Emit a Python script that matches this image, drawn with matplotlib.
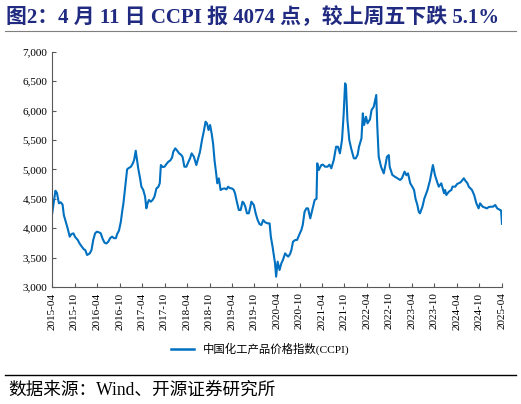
import matplotlib
matplotlib.use('Agg')
import matplotlib.pyplot as plt
import matplotlib.dates as mdates
from matplotlib.lines import Line2D
from matplotlib.ticker import FuncFormatter
import numpy as np

plt.rcParams['font.family'] = ['Liberation Serif', 'Noto Sans CJK SC']

# CCPI 周度数据
dates = [
    '2015-04-10', '2015-04-25', '2015-05-08', '2015-05-20', '2015-06-05', '2015-06-20',
    '2015-07-05', '2015-07-15', '2015-08-01', '2015-08-15', '2015-09-01', '2015-09-15',
    '2015-10-01', '2015-10-15', '2015-11-05', '2015-11-20', '2015-12-10', '2015-12-25',
    '2016-01-05', '2016-01-20', '2016-02-10', '2016-02-25', '2016-03-10', '2016-03-25',
    '2016-04-08', '2016-04-25', '2016-05-10', '2016-05-25', '2016-06-10', '2016-06-25',
    '2016-07-10', '2016-07-25', '2016-08-10', '2016-08-25', '2016-09-10', '2016-09-20',
    '2016-10-05', '2016-10-20', '2016-11-01', '2016-11-10', '2016-11-25', '2016-12-10',
    '2016-12-20', '2017-01-10', '2017-01-25', '2017-02-05', '2017-02-18', '2017-03-01',
    '2017-03-10', '2017-03-25', '2017-04-05', '2017-04-20', '2017-05-05', '2017-05-15',
    '2017-05-25', '2017-06-05', '2017-06-20', '2017-07-05', '2017-07-20', '2017-08-05',
    '2017-08-20', '2017-09-01', '2017-09-10', '2017-09-25', '2017-10-10', '2017-10-25',
    '2017-11-10', '2017-11-25', '2017-12-10', '2017-12-20', '2018-01-05', '2018-01-20',
    '2018-02-05', '2018-02-20', '2018-03-05', '2018-03-20', '2018-04-05', '2018-04-20',
    '2018-05-05', '2018-05-18', '2018-06-05', '2018-06-25', '2018-07-10', '2018-07-25',
    '2018-08-10', '2018-08-25', '2018-09-08', '2018-09-20', '2018-10-02', '2018-10-15',
    '2018-10-28', '2018-11-08', '2018-11-20', '2018-12-03', '2018-12-12', '2018-12-25',
    '2019-01-08', '2019-01-25', '2019-02-10', '2019-02-25', '2019-03-10', '2019-03-25',
    '2019-04-10', '2019-04-25', '2019-05-05', '2019-05-20', '2019-06-05', '2019-06-20',
    '2019-07-05', '2019-07-15', '2019-07-28', '2019-08-10', '2019-08-25', '2019-09-05',
    '2019-09-15', '2019-10-05', '2019-10-20', '2019-11-05', '2019-11-20', '2019-12-05',
    '2019-12-20', '2020-01-05', '2020-01-25', '2020-02-10', '2020-02-20', '2020-03-05',
    '2020-03-25', '2020-04-03', '2020-04-15', '2020-05-01', '2020-05-15', '2020-05-28',
    '2020-06-15', '2020-06-28', '2020-07-10', '2020-07-25', '2020-08-05', '2020-08-18',
    '2020-09-05', '2020-09-20', '2020-10-10', '2020-10-25', '2020-11-05', '2020-11-20',
    '2020-12-05', '2020-12-18', '2021-01-05', '2021-01-25', '2021-02-10', '2021-02-25',
    '2021-03-03', '2021-03-15', '2021-04-05', '2021-04-18', '2021-05-05', '2021-05-25',
    '2021-06-10', '2021-06-25', '2021-07-15', '2021-08-03', '2021-08-18', '2021-09-03',
    '2021-09-20', '2021-10-03', '2021-10-15', '2021-10-22', '2021-11-03', '2021-11-18',
    '2021-12-03', '2021-12-25', '2022-01-10', '2022-01-25', '2022-02-05', '2022-02-25',
    '2022-03-08', '2022-03-18', '2022-04-03', '2022-04-15', '2022-05-05', '2022-05-18',
    '2022-06-05', '2022-06-25', '2022-07-03', '2022-07-15', '2022-08-03', '2022-08-25',
    '2022-09-10', '2022-09-20', '2022-10-05', '2022-10-12', '2022-11-03', '2022-11-20',
    '2022-12-15', '2023-01-05', '2023-01-20', '2023-02-10', '2023-02-25', '2023-03-10',
    '2023-03-28', '2023-04-15', '2023-04-28', '2023-05-10', '2023-05-25', '2023-06-05',
    '2023-06-15', '2023-07-05', '2023-07-20', '2023-08-15', '2023-09-05', '2023-09-28',
    '2023-10-15', '2023-11-05', '2023-11-15', '2023-12-05', '2023-12-28', '2024-01-05',
    '2024-01-15', '2024-02-05', '2024-02-25', '2024-03-05', '2024-03-28', '2024-04-10',
    '2024-05-10', '2024-06-05', '2024-06-20', '2024-07-05', '2024-07-15', '2024-08-10',
    '2024-08-28', '2024-09-15', '2024-10-03', '2024-10-15', '2024-11-05', '2024-11-25',
    '2024-12-10', '2024-12-25', '2025-01-10', '2025-01-28', '2025-02-15', '2025-03-03',
    '2025-03-28', '2025-04-04', '2025-04-11',
]
ccpi = [
    4230, 4450, 4637, 4600, 4423, 4440,
    4400, 4224, 4100, 3998, 3856, 3900,
    3912, 3850, 3800, 3740, 3680, 3640,
    3629, 3544, 3570, 3630, 3800, 3912,
    3940, 3930, 3912, 3820, 3753, 3740,
    3770, 3830, 3856, 3830, 3830, 3900,
    3960, 4110, 4300, 4423, 4705, 5000,
    5018, 5045, 5100, 5159, 5317, 5150,
    5018, 4850, 4705, 4650, 4535, 4337,
    4420, 4479, 4450, 4480, 4535, 4676,
    4700, 4763, 5074, 5040, 5045, 5090,
    5130, 5150, 5200, 5300, 5357, 5320,
    5272, 5250, 5215, 5045, 5045, 5120,
    5187, 5272, 5215, 5074, 5187, 5300,
    5499, 5650, 5810, 5780, 5669, 5754,
    5600, 5442, 5150, 4932, 4763, 4847,
    4649, 4670, 4676, 4660, 4705, 4680,
    4676, 4650, 4593, 4450, 4309, 4309,
    4450, 4430, 4365, 4253, 4253, 4350,
    4450, 4394, 4250, 4139, 4070, 4054,
    4139, 4100, 4082, 4082, 3856, 3686,
    3403, 3176, 3431, 3289, 3400, 3459,
    3572, 3540, 3516, 3560, 3629, 3770,
    3799, 3800, 3900, 3969, 4054, 4280,
    4337, 4337, 4167, 4337, 4479, 4500,
    5102, 4989, 5074, 5080, 5045, 5045,
    5080, 5018, 5159, 5385, 5385, 5272,
    5500, 5924, 6463, 6430, 5839, 5500,
    5357, 5187, 5187, 5250, 5385, 5527,
    5952, 5754, 5895, 5782, 5850, 6009,
    6066, 6264, 5754, 5215, 5045, 4932,
    5100, 5215, 5243, 5045, 4904, 4880,
    4848, 4819, 4850, 4961, 4900, 4932,
    4763, 4700, 4649, 4500, 4394, 4280,
    4252, 4365, 4500, 4649, 4819, 5074,
    4900, 4763, 4706, 4763, 4593, 4649,
    4564, 4621, 4650, 4706, 4706, 4749,
    4780, 4848, 4800, 4763, 4706, 4650,
    4564, 4422, 4337, 4422, 4365, 4350,
    4337, 4360, 4365, 4365, 4394, 4337,
    4309, 4300, 4074,
]
series_name = '中国化工产品价格指数(CCPI)'
title = '图2：4 月 11 日 CCPI 报 4074 点，较上周五下跌 5.1%'
source = '数据来源：Wind、开源证券研究所'

x = np.array(dates, dtype='datetime64[D]')

fig = plt.figure(figsize=(5.21, 4.04), dpi=100)
ax = fig.add_axes([0.0998, 0.2896, 0.8637, 0.5824])

ax.plot(x, ccpi, color='#0070C0', lw=1.5)

tick_dates = np.array([f'{2015 + (3 + 6 * i) // 12}-{(3 + 6 * i) % 12 + 1:02d}-10'
                       for i in range(21)], dtype='datetime64[D]')
ax.set_xticks(tick_dates)
ax.xaxis.set_major_formatter(mdates.DateFormatter('%Y-%m'))
ax.set_xlim(x[0], x[-1])
ax.set_ylim(3000, 7000)
ax.set_yticks(np.arange(3000, 7001, 500))
ax.yaxis.set_major_formatter(FuncFormatter(lambda v, p: f'{v:,.0f}'))

for s in ['top', 'right']:
    ax.spines[s].set_visible(False)
for s in ['left', 'bottom']:
    ax.spines[s].set_color('#595959')
    ax.spines[s].set_linewidth(0.8)
ax.tick_params(direction='in', length=3, width=0.8, color='#595959', labelsize=8)
ax.tick_params(axis='x', rotation=90, pad=4)

leg = fig.legend([Line2D([0], [0], color='#0070C0', lw=1.8)], [series_name],
                 loc='center', bbox_to_anchor=(0.5, 0.136), frameon=False,
                 fontsize=8.2, handlelength=2.0)

fig.text(0.012, 0.957, title, fontsize=15, fontweight='bold', color='#1F2A80',
         va='center', ha='left')
fig.add_artist(Line2D([0.01, 0.99], [0.923, 0.923], color='#7f7f7f', lw=0.8))
fig.add_artist(Line2D([0.01, 0.99], [0.072, 0.072], color='black', lw=1.0))
fig.text(0.016, 0.034, source, fontsize=12.7, va='center', ha='left')

fig.savefig('out.png', dpi=100)
